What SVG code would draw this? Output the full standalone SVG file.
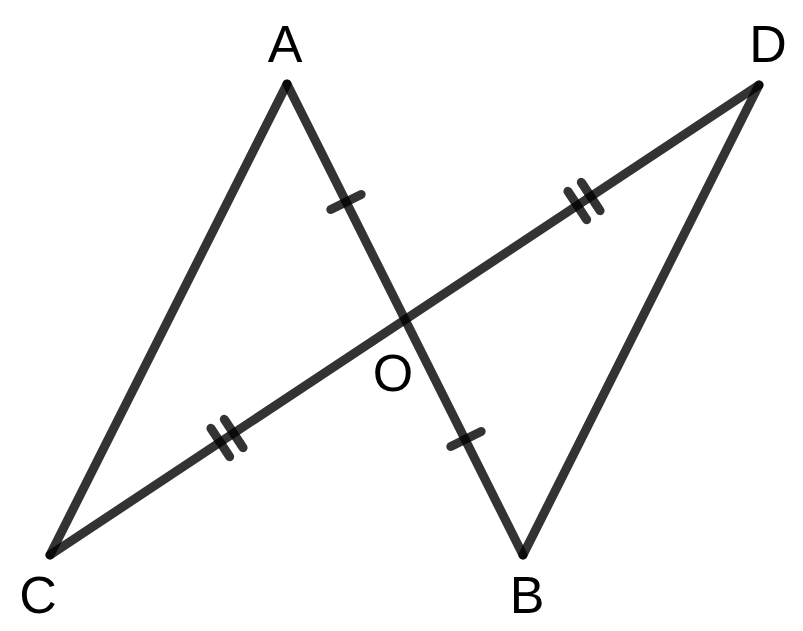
<svg xmlns="http://www.w3.org/2000/svg" width="803" height="631" viewBox="0 0 803 631">
<style>
.seg{stroke:#000;stroke-opacity:0.8;stroke-width:9;stroke-linecap:round;fill:none}
.lbl{font-family:"Liberation Sans",Arial,sans-serif;font-size:52px;fill:#000;text-anchor:middle}
</style>
<rect width="803" height="631" fill="#fff"/>
<g id="connectors">
<line class="seg" x1="287" y1="84" x2="523" y2="555"/>
<line class="seg" x1="50" y1="555" x2="759" y2="85"/>
<line class="seg" x1="287" y1="84" x2="50" y2="555"/>
<line class="seg" x1="759" y1="85" x2="523" y2="555"/>
<line class="seg" x1="330.8" y1="209.6" x2="361.2" y2="194.4"/>
<line class="seg" x1="450.8" y1="446.6" x2="481.2" y2="431.4"/>
<line class="seg" x1="567.9" y1="191.3" x2="586.7" y2="219.7"/>
<line class="seg" x1="581.3" y1="182.3" x2="600.1" y2="210.7"/>
<line class="seg" x1="210.9" y1="428.3" x2="229.7" y2="456.7"/>
<line class="seg" x1="224.3" y1="419.3" x2="243.1" y2="447.7"/>
</g>
<g id="A"><text class="lbl" x="285" y="62">A</text></g>
<g id="D"><text class="lbl" x="768" y="62">D</text></g>
<g id="O"><text class="lbl" x="393" y="391">O</text></g>
<g id="C"><text class="lbl" x="38" y="613">C</text></g>
<g id="B"><text class="lbl" x="527" y="613">B</text></g>
</svg>
